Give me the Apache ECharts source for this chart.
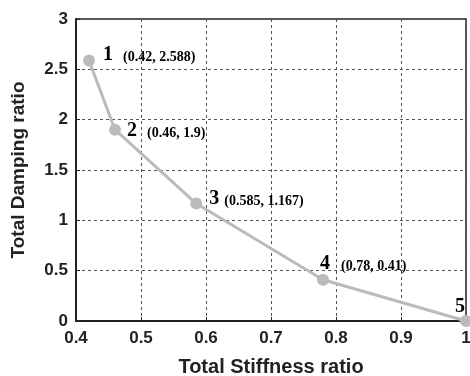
<!DOCTYPE html>
<html>
<head>
<meta charset="utf-8">
<script src="https://cdn.jsdelivr.net/npm/echarts@6/dist/echarts.min.js"></script>
<style>
html,body{margin:0;padding:0;background:#fff;}
#c{width:470px;height:376px;}
</style>
</head>
<body>
<div id="c"></div>
<script>
// Data
var stiffness = [0.42, 0.46, 0.585, 0.78, 1.0];
var damping = [2.588, 1.9, 1.167, 0.41, 0.0];
var pointNames = ['1', '2', '3', '4', '5'];
var coordTexts = ['(0.42, 2.588)', '(0.46, 1.9)', '(0.585, 1.167)', '(0.78, 0.41)', ''];

// Label placement (style, not data): offset of label's left/middle from the point
var labelOffsets = [[14, -6], [12, 1], [13, -5], [-3, -16], [-11, -14]];
var gapWidths = [10, 10, 5, 11, 0];
var symbolSize = 12;

var serif = '"Liberation Serif", "Times New Roman", serif';
var richStyles = {
  n: { fontFamily: serif, fontWeight: 'bold', fontSize: 20, color: '#000', verticalAlign: 'bottom', lineHeight: 20 },
  c: { fontFamily: serif, fontWeight: 'bold', fontSize: 14, color: '#000', verticalAlign: 'bottom', lineHeight: 18 }
};

var lineData = stiffness.map(function (x, i) {
  var rich = {
    n: richStyles.n, c: richStyles.c,
    g: { width: gapWidths[i], height: 10 }
  };
  return {
    value: [x, damping[i]],
    label: {
      show: true, align: 'left', verticalAlign: 'middle',
      position: [symbolSize / 2 + labelOffsets[i][0], symbolSize / 2 + labelOffsets[i][1]],
      formatter: '{n|' + pointNames[i] + '}{g|}' + (coordTexts[i] ? '{c|' + coordTexts[i] + '}' : ''),
      rich: rich
    }
  };
});

var axisFont = { fontFamily: '"Liberation Sans", Arial, sans-serif', fontWeight: 'bold', color: '#222' };
var chart = echarts.init(document.getElementById('c'), null, { renderer: 'canvas' });
chart.setOption({
  animation: false,
  grid: { left: 76, right: 4, top: 19, bottom: 55, outerBoundsMode: 'none', containLabel: false,
    show: true, borderColor: '#222', borderWidth: 1.5, backgroundColor: 'transparent' },
  xAxis: {
    type: 'value', min: 0.4, max: 1, interval: 0.1,
    name: 'Total Stiffness ratio', nameLocation: 'middle', nameGap: 36,
    nameTextStyle: Object.assign({ fontSize: 20 }, axisFont),
    axisLine: { show: true, onZero: false, lineStyle: { color: '#222', width: 2 } },
    axisTick: { show: true, inside: true, length: 4, lineStyle: { color: '#222' } },
    axisLabel: Object.assign({ fontSize: 17, margin: 9, formatter: function (v) { return (Math.round(v * 10) / 10).toString(); } }, axisFont),
    splitLine: { show: true, lineStyle: { color: '#555', type: [3, 3], width: 1 } }
  },
  yAxis: {
    type: 'value', min: 0, max: 3, interval: 0.5,
    name: 'Total Damping ratio', nameLocation: 'middle', nameGap: 48, nameRotate: 90,
    nameTextStyle: Object.assign({ fontSize: 19 }, axisFont),
    axisLine: { show: true, onZero: false, lineStyle: { color: '#222', width: 2 } },
    axisTick: { show: true, inside: true, length: 4, lineStyle: { color: '#222' } },
    axisLabel: Object.assign({ fontSize: 17, margin: 8 }, axisFont),
    splitLine: { show: true, lineStyle: { color: '#555', type: [3, 3], width: 1 } }
  },
  series: [
    {
      type: 'line', data: lineData, symbol: 'circle', symbolSize: symbolSize,
      lineStyle: { color: '#bbbbbb', width: 3 },
      itemStyle: { color: '#bbbbbb' },
      label: { show: true, color: '#000', textBorderWidth: 0 },
      labelLayout: { hideOverlap: false },
      z: 3
    }
  ]
});
</script>
</body>
</html>
